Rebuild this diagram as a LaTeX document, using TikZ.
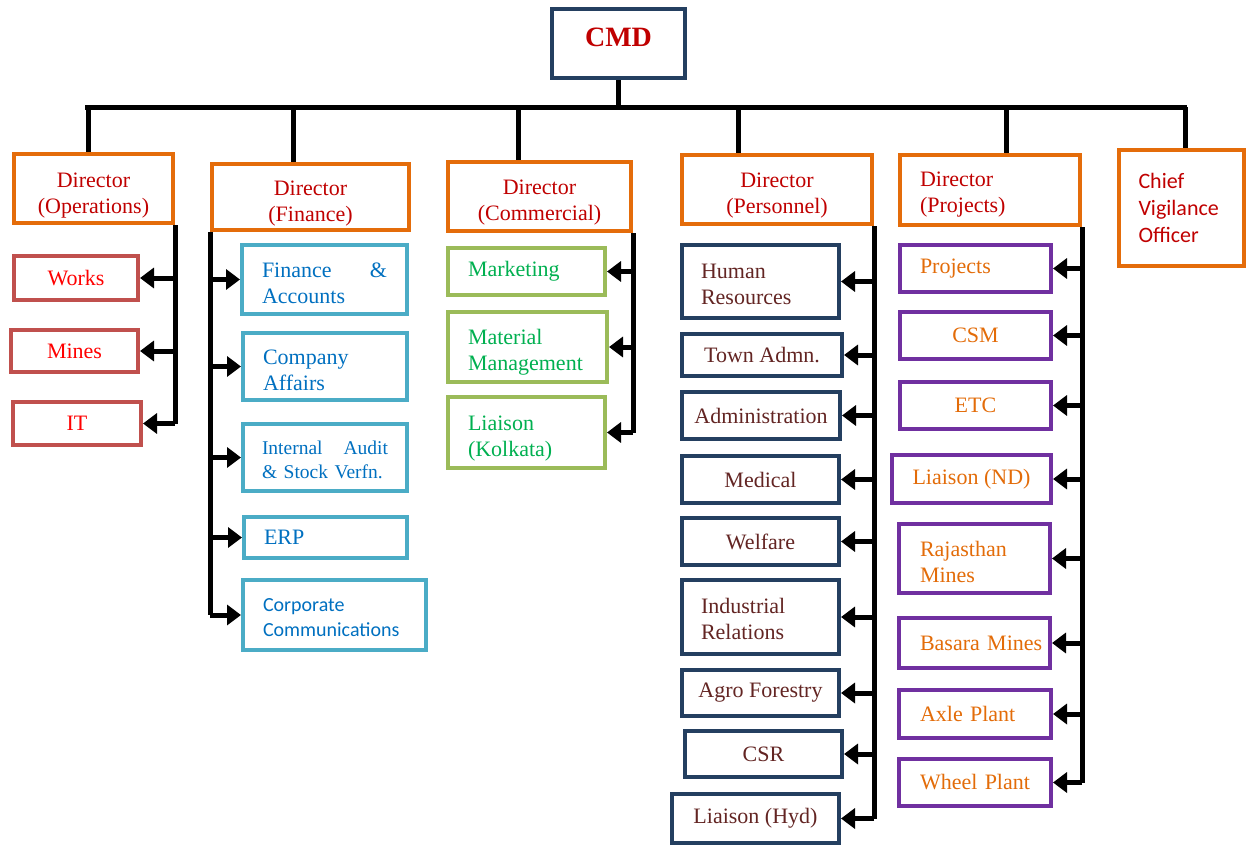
\documentclass[tikz,border=0pt]{standalone}
\usepackage{fontspec}
\setmainfont{Liberation Serif}
\newfontfamily\calfont{Carlito}
\usetikzlibrary{arrows.meta}
\definecolor{navy}{HTML}{243F60}
\definecolor{dirorange}{HTML}{E46C0A}
\definecolor{dirred}{HTML}{C00000}
\definecolor{opsline}{HTML}{C0504D}
\definecolor{opstext}{HTML}{FF0000}
\definecolor{finline}{HTML}{4BACC6}
\definecolor{fintext}{HTML}{0070C0}
\definecolor{comline}{HTML}{9BBB59}
\definecolor{comtext}{HTML}{00B050}
\definecolor{pertext}{HTML}{632523}
\definecolor{projline}{HTML}{7030A0}
\definecolor{projtext}{HTML}{E36C09}
\tikzset{box/.style = {draw,rectangle,line width=4pt,inner sep=0pt,align=center,font=\fontsize{22}{26}\selectfont},
         dirbox/.style = {box,draw=dirorange,text=dirred},
         opsbox/.style = {box,draw=opsline,text=opstext},
         finbox/.style = {box,draw=finline,text=fintext},
         combox/.style = {box,draw=comline,text=comtext},
         perbox/.style = {box,draw=navy,text=pertext},
         projbox/.style = {box,draw=projline,text=projtext},
         sz/.style 2 args = {minimum width=#1,minimum height=#2},
         lft/.style = {align=left,text width=#1},
         ctr/.style = {align=center,text width=#1},
         dn/.style = {execute at begin node={\rule{0pt}{#1}}},
         bus/.style = {line width=5pt},
         arr/.style = {line width=5pt,-{Triangle[length=14pt,width=20pt]}}}

\begin{document}
\begin{tikzpicture}[x=1pt,y=-1pt]
\useasboundingbox[fill=white] (0,0) rectangle (1247,846);

% top
\node [box,draw=navy,text=dirred,sz={133}{69},text depth=13pt,font=\bfseries\fontsize{28}{32}\selectfont] (cmd) at (618.5,43.5) {CMD};
\node [dirbox,sz={159}{69},ctr=150,dn=28pt] (opsdir) at (93.5,188.5) {Director\\(Operations)};
\node [dirbox,sz={197}{66},ctr=185,dn=28pt] (findir) at (310.5,197) {Director\\(Finance)};
\node [dirbox,sz={183}{69},ctr=175,dn=27pt] (comdir) at (539.5,196.5) {Director\\(Commercial)};
\node [dirbox,sz={190}{69},ctr=180,dn=27pt] (perdir) at (777,189.5) {Director\\(Personnel)};
\node [dirbox,sz={180}{70},lft=140,dn=24pt] (projdir) at (990,190) {Director\\(Projects)};
\node [dirbox,sz={125}{116},lft=86,font=\calfont\fontsize{22}{27}\selectfont] (cvo) at (1181.5,208) {Chief\\Vigilance\\Officer};

\coordinate (busL) at (85,107);
\coordinate (busR) at (1187,107);
\draw [bus] (cmd.south) -- (cmd.south |- busL);
\draw [bus] (busL) -- (busR);
\foreach \x/\d in {88/opsdir,293/findir,518/comdir,738/perdir,1006/projdir,1185/cvo}
  \draw [bus] (\x,107) -- (\x,107 |- \d.north);

% operations
\node [opsbox,sz={124}{44}] (works) at (76,278) {Works};
\node [opsbox,sz={127}{42}] (mines) at (74.5,351) {Mines};
\node [opsbox,sz={128}{43}] (it) at (77,423.5) {IT};
\draw [bus] (opsdir.south east) -- (opsdir.south east |- it.east);
\foreach \n in {works,mines,it}
  \draw [arr] (opsdir.south east |- \n.east) -- (\n.east);

% finance
\node [finbox,sz={165}{69},lft=125,dn=22pt] (finacc) at (324.5,279.5) {Finance \hfill \&\\Accounts};
\node [finbox,sz={164}{67},lft=124,dn=23pt] (compaff) at (325,366.5) {Company\\Affairs};
\node [finbox,sz={164}{67},lft=126,dn=18pt,font=\fontsize{19.5}{24}\selectfont] (audit) at (325,457.5) {Internal \hfill Audit\\\& Stock Verfn.};
\node [finbox,sz={163}{41},lft=123] (erp) at (325.5,537.5) {ERP};
\node [finbox,sz={183}{70},lft=143,dn=19pt,font=\calfont\fontsize{20}{25}\selectfont] (corpcom) at (334.5,615) {Corporate\\Communications};
\draw [bus] (findir.south west) -- (findir.south west |- corpcom.west);
\foreach \n in {finacc,compaff,audit,erp,corpcom}
  \draw [arr] (findir.south west |- \n.west) -- (\n.west);

% commercial
\node [combox,sz={157}{47},lft=117] (mktg) at (526.5,271.5) {Marketing};
\node [combox,sz={159}{70},lft=119,dn=25pt] (matmgmt) at (527.5,347) {Material\\Management};
\node [combox,sz={157}{71},lft=117,dn=27pt] (liaisonk) at (526.5,432.5) {Liaison\\(Kolkata)};
\draw [bus] (comdir.south east) -- (comdir.south east |- liaisonk.east);
\foreach \n in {mktg,matmgmt,liaisonk}
  \draw [arr] (comdir.south east |- \n.east) -- (\n.east);

% personnel
\node [perbox,sz={157}{73},lft=119,dn=21pt] (hr) at (760.5,281.5) {Human\\Resources};
\node [perbox,sz={160}{42}] (town) at (762,355) {Town Admn.};
\node [perbox,sz={158}{47}] (admin) at (761,415.5) {Administration};
\node [perbox,sz={157}{47}] (medical) at (760.5,479.5) {Medical};
\node [perbox,sz={157}{47}] (welfare) at (760.5,541.5) {Welfare};
\node [perbox,sz={157}{74},lft=119,dn=19pt] (indrel) at (760.5,617) {Industrial\\Relations};
\node [perbox,sz={157}{46}] (agro) at (760.5,693) {Agro Forestry};
\node [perbox,sz={157}{46}] (csr) at (763.5,754) {CSR};
\node [perbox,sz={167}{49}] (liaisonh) at (755.5,818.5) {Liaison (Hyd)};
\draw [bus] (perdir.south east) -- (perdir.south east |- liaisonh.east);
\foreach \n in {hr,town,admin,medical,welfare,indrel,agro,csr,liaisonh}
  \draw [arr] (perdir.south east |- \n.east) -- (\n.east);

% projects
\node [projbox,sz={151}{47},lft=111] (proj) at (975.5,268.5) {Projects};
\node [projbox,sz={151}{47}] (csm) at (975.5,335.5) {CSM};
\node [projbox,sz={151}{47}] (etc) at (975.5,405.5) {ETC};
\node [projbox,sz={159}{48}] (liaisonnd) at (971.5,479) {Liaison (ND)};
\node [projbox,sz={151}{69},lft=109,dn=23pt] (rajmines) at (974.5,558.5) {Rajasthan\\Mines};
\node [projbox,sz={151}{50},lft=109] (basmines) at (974.5,643) {Basara~Mines};
\node [projbox,sz={152}{48},lft=110] (axle) at (975,714) {Axle~Plant};
\node [projbox,sz={152}{47},lft=110] (wheel) at (975,782.5) {Wheel~Plant};
\draw [bus] (projdir.south east) -- (projdir.south east |- wheel.east);
\foreach \n in {proj,csm,etc,liaisonnd,rajmines,basmines,axle,wheel}
  \draw [arr] (projdir.south east |- \n.east) -- (\n.east);
\end{tikzpicture}
\end{document}
